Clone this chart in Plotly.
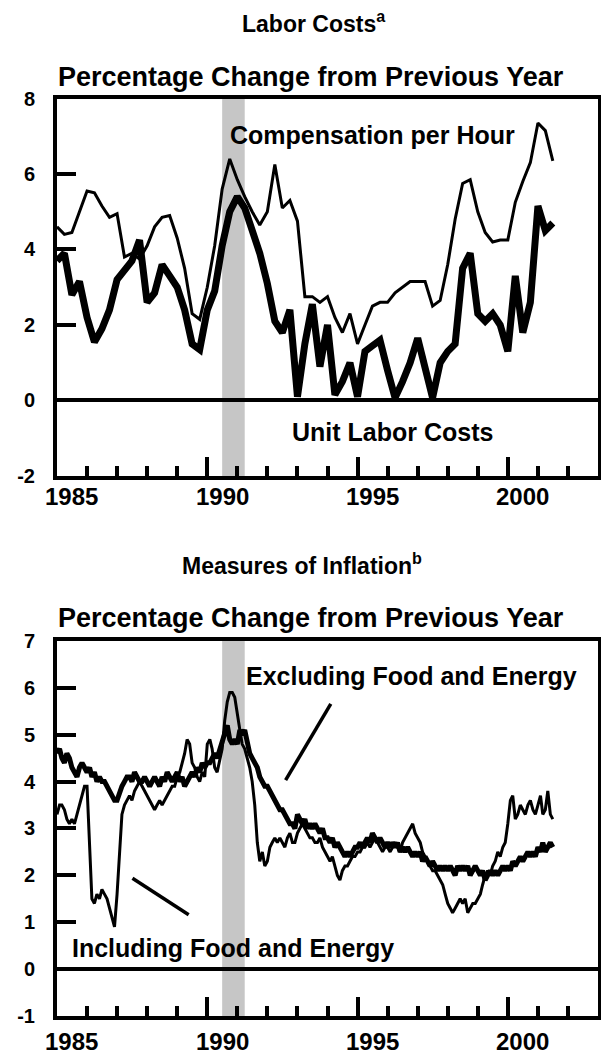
import pandas as pd
import plotly.graph_objects as go

# ---------------- Data ----------------
# Labor costs, quarterly, 1985Q1 - 2001Q3 (percent change from previous year)
labor_start = "1985-01-01"
comp_per_hour = [
    4.60, 4.40, 4.45, 5.00, 5.55, 5.50, 5.15, 4.85, 4.95, 3.80,
    3.90, 3.75, 4.10, 4.60, 4.85, 4.90, 4.30, 3.50, 2.30, 2.15,
    3.00, 4.10, 5.60, 6.40, 5.85, 5.40, 5.00, 4.65, 5.00, 6.25,
    5.10, 5.30, 4.75, 2.75, 2.75, 2.60, 2.75, 2.20, 1.80, 2.30,
    1.50, 2.00, 2.50, 2.60, 2.60, 2.85, 3.00, 3.15, 3.15, 3.15,
    2.50, 2.65, 3.60, 4.80, 5.75, 5.85, 5.00, 4.45, 4.20, 4.25,
    4.25, 5.25, 5.80, 6.30, 7.35, 7.15, 6.35,
]
unit_labor_costs = [
    3.70, 3.90, 2.80, 3.15, 2.20, 1.55, 1.90, 2.40, 3.20, 3.45,
    3.70, 4.25, 2.60, 2.85, 3.60, 3.30, 3.00, 2.40, 1.50, 1.35,
    2.40, 2.90, 4.10, 5.00, 5.40, 5.10, 4.50, 3.90, 3.10, 2.10,
    1.80, 2.40, 0.10, 1.50, 2.55, 0.90, 2.00, 0.15, 0.50, 1.00,
    0.10, 1.30, 1.45, 1.60, 0.80, 0.07, 0.50, 1.00, 1.65, 0.90,
    0.07, 1.00, 1.30, 1.50, 3.50, 3.90, 2.30, 2.10, 2.30, 2.00,
    1.30, 3.30, 1.80, 2.60, 5.15, 4.50, 4.70,
]

# Measures of inflation, monthly, Jan 1985 - Jul 2001
infl_start = "1985-01-01"
excl_food_energy = [
    4.6, 4.7, 4.5, 4.4, 4.6, 4.5, 4.3, 4.2, 4.1, 4.3, 4.4, 4.3,   # 1985
    4.2, 4.3, 4.1, 4.2, 4.0, 4.1, 4.0, 4.0, 3.9, 3.8, 3.7, 3.6,   # 1986
    3.6, 3.8, 3.9, 4.0, 4.1, 4.1, 4.0, 4.2, 4.1, 4.0, 4.0, 4.1,   # 1987
    4.0, 3.9, 4.0, 4.1, 4.0, 3.9, 4.1, 4.0, 4.2, 4.1, 4.0, 4.1,   # 1988
    4.2, 4.0, 4.1, 3.9, 4.0, 4.1, 4.2, 4.1, 4.3, 4.2, 4.4, 4.3,   # 1989
    4.4, 4.4, 4.5, 4.6, 4.5, 4.7, 4.9, 5.1, 5.2, 4.9, 4.8, 4.9,   # 1990
    4.8, 5.1, 5.0, 5.1, 4.8, 4.6, 4.5, 4.4, 4.3, 4.1, 4.0, 3.9,   # 1991
    3.9, 3.8, 3.7, 3.6, 3.5, 3.4, 3.4, 3.3, 3.2, 3.1, 3.1, 3.0,   # 1992
    3.3, 3.2, 3.1, 3.2, 3.0, 3.1, 3.0, 3.1, 3.0, 2.9, 3.0, 2.8,   # 1993
    2.8, 2.7, 2.8, 2.6, 2.7, 2.6, 2.5, 2.4, 2.5, 2.4, 2.5, 2.6,   # 1994
    2.6, 2.7, 2.6, 2.7, 2.8, 2.7, 2.9, 2.8, 2.7, 2.8, 2.7, 2.6,   # 1995
    2.7, 2.6, 2.7, 2.6, 2.7, 2.5, 2.6, 2.5, 2.6, 2.5, 2.4, 2.5,   # 1996
    2.4, 2.5, 2.3, 2.4, 2.3, 2.2, 2.3, 2.2, 2.1, 2.2, 2.1, 2.2,   # 1997
    2.1, 2.2, 2.1, 2.0, 2.2, 2.1, 2.2, 2.1, 2.2, 2.0, 2.1, 2.2,   # 1998
    2.1, 2.0, 2.1, 1.9, 2.0, 2.1, 2.0, 2.1, 2.0, 2.1, 2.2, 2.1,   # 1999
    2.2, 2.1, 2.3, 2.2, 2.3, 2.4, 2.3, 2.4, 2.5, 2.4, 2.5, 2.4,   # 2000
    2.6, 2.5, 2.7, 2.5, 2.6, 2.7, 2.6,                            # 2001
]
incl_food_energy = [
    3.3, 3.5, 3.5, 3.4, 3.2, 3.1, 3.2, 3.1, 3.3, 3.5, 3.7, 3.9,   # 1985
    3.9, 2.6, 1.5, 1.4, 1.6, 1.5, 1.7, 1.6, 1.5, 1.3, 1.1, 0.9,   # 1986
    1.6, 2.5, 3.3, 3.5, 3.6, 3.7, 3.6, 3.8, 3.9, 4.0, 3.9, 3.8,   # 1987
    3.7, 3.6, 3.5, 3.4, 3.5, 3.6, 3.5, 3.6, 3.7, 3.8, 3.9, 3.9,   # 1988
    4.1, 4.2, 4.4, 4.6, 4.9, 4.8, 4.4, 4.3, 4.1, 4.0, 4.2, 4.1,   # 1989
    4.8, 4.9, 4.7, 4.3, 4.2, 4.5, 4.7, 5.3, 5.7, 5.9, 5.9, 5.8,   # 1990
    5.4, 5.1, 4.8, 4.7, 4.5, 4.3, 4.0, 3.5, 2.7, 2.3, 2.5, 2.2,   # 1991
    2.3, 2.6, 2.7, 2.8, 2.7, 2.8, 2.7, 2.6, 2.8, 2.9, 2.7, 2.7,   # 1992
    2.9, 3.0, 3.1, 3.0, 2.9, 2.8, 2.8, 2.7, 2.7, 2.8, 2.6, 2.5,   # 1993
    2.4, 2.3, 2.4, 2.2, 2.0, 1.9, 2.1, 2.2, 2.2, 2.3, 2.4, 2.4,   # 1994
    2.5, 2.5, 2.6, 2.6, 2.7, 2.6, 2.7, 2.8, 2.7, 2.6, 2.5, 2.6,   # 1995
    2.6, 2.5, 2.6, 2.7, 2.6, 2.5, 2.7, 2.8, 2.9, 3.0, 3.1, 2.9,   # 1996
    2.8, 2.7, 2.5, 2.4, 2.3, 2.2, 2.1, 2.1, 2.0, 1.9, 1.8, 1.6,   # 1997
    1.4, 1.3, 1.2, 1.3, 1.4, 1.5, 1.4, 1.5, 1.2, 1.3, 1.4, 1.4,   # 1998
    1.5, 1.6, 1.8, 2.0, 2.1, 2.0, 2.2, 2.3, 2.5, 2.4, 2.6, 2.7,   # 1999
    3.1, 3.6, 3.7, 3.2, 3.3, 3.5, 3.4, 3.3, 3.5, 3.6, 3.4, 3.3,   # 2000
    3.5, 3.7, 3.3, 3.4, 3.8, 3.3, 3.2,                            # 2001
]

recession = ("1990-07-01", "1991-04-01")
year_labels = ["1985", "1990", "1995", "2000"]
major_ticks = ["1990-01-01", "1995-01-01", "2000-01-01"]
x_range = ["1985-01-01", "2003-01-01"]

top_yticks = [-2, 0, 2, 4, 6, 8]
bot_yticks = [-1, 0, 1, 2, 3, 4, 5, 6, 7]

q_dates = pd.date_range(labor_start, periods=len(comp_per_hour), freq="QS")
m_dates = pd.date_range(infl_start, periods=len(excl_food_energy), freq="MS")

FONT = "Liberation Sans, Arial, sans-serif"
W, H = 601, 1057

fig = go.Figure()

fig.add_trace(go.Scatter(x=q_dates, y=comp_per_hour, mode="lines",
                         line=dict(color="black", width=3), xaxis="x", yaxis="y",
                         showlegend=False))
fig.add_trace(go.Scatter(x=q_dates, y=unit_labor_costs, mode="lines",
                         line=dict(color="black", width=7), xaxis="x", yaxis="y",
                         showlegend=False))
fig.add_trace(go.Scatter(x=m_dates, y=incl_food_energy, mode="lines",
                         line=dict(color="black", width=3), xaxis="x2", yaxis="y2",
                         showlegend=False))
fig.add_trace(go.Scatter(x=m_dates, y=excl_food_energy, mode="lines",
                         line=dict(color="black", width=5), xaxis="x2", yaxis="y2",
                         showlegend=False))

xcommon = dict(
    type="date", range=x_range, showgrid=False, zeroline=False,
    showline=True, mirror=True, linewidth=4, linecolor="black",
    tickmode="array", tickvals=major_ticks, ticks="inside", ticklen=19,
    tickwidth=4, tickcolor="black", showticklabels=False,
    minor=dict(tickmode="linear", tick0="1985-01-01", dtick="M12",
               ticks="inside", ticklen=10, tickwidth=4, tickcolor="black"),
)
ycommon = dict(
    showgrid=False, zeroline=True, zerolinewidth=4, zerolinecolor="black",
    showline=True, mirror=True, linewidth=4, linecolor="black",
    tickmode="array", ticks="inside", ticklen=19, tickwidth=4, tickcolor="black",
    tickfont=dict(family=FONT, size=20, color="black", weight="bold"),
    ticklabelstandoff=14,
)

fig.update_layout(
    width=W, height=H,
    margin=dict(l=57, r=3, t=0, b=0, autoexpand=False),
    paper_bgcolor="white", plot_bgcolor="white",
    xaxis=dict(domain=[0, 1], anchor="y", **xcommon),
    yaxis=dict(domain=[0.5497, 0.9068], anchor="x", range=[-2, 8],
               tickvals=top_yticks, ticktext=[str(v) for v in top_yticks], **ycommon),
    xaxis2=dict(domain=[0, 1], anchor="y2", **xcommon),
    yaxis2=dict(domain=[0.0388, 0.3936], anchor="x2", range=[-1, 7],
                tickvals=bot_yticks, ticktext=[str(v) for v in bot_yticks], **ycommon),
)

shapes = []
for xr, yr in (("x", "y"), ("x2", "y2")):
    shapes.append(dict(type="rect", xref=xr, yref=f"{yr} domain",
                       x0=recession[0], x1=recession[1], y0=0, y1=1,
                       fillcolor="#c6c6c6", line=dict(width=0), layer="below"))
# pointer lines
shapes.append(dict(type="line", xref="x2", yref="y2", x0="1994-02-10", y0=5.66,
                   x1="1992-08-10", y1=4.03, line=dict(color="black", width=3.5)))
shapes.append(dict(type="line", xref="x2", yref="y2", x0="1987-07-07", y0=1.94,
                   x1="1989-05-20", y1=1.16, line=dict(color="black", width=3.5)))
fig.update_layout(shapes=shapes)


def bold(size):
    return dict(family=FONT, size=size, color="black", weight="bold")


def py(pix):
    return 1 - pix / H


ann = []
# titles
ann.append(dict(text="Labor Costs<sup>a</sup>", xref="paper", yref="paper",
                x=0.475, y=py(22), showarrow=False, font=bold(23),
                xanchor="center", yanchor="middle"))
ann.append(dict(text="Percentage Change from Previous Year", xref="paper", yref="paper",
                x=-0.002, y=py(77), showarrow=False, font=bold(27),
                xanchor="left", yanchor="middle"))
ann.append(dict(text="Measures of Inflation<sup>b</sup>", xref="paper", yref="paper",
                x=0.452, y=py(564), showarrow=False, font=bold(23),
                xanchor="center", yanchor="middle"))
ann.append(dict(text="Percentage Change from Previous Year", xref="paper", yref="paper",
                x=-0.002, y=py(618), showarrow=False, font=bold(27),
                xanchor="left", yanchor="middle"))
# series labels
ann.append(dict(text="Compensation per Hour", xref="x", yref="y", x="1995-07-01", y=7.03,
                showarrow=False, font=bold(25), xanchor="center", yanchor="middle"))
ann.append(dict(text="Unit Labor Costs", xref="x", yref="y", x="1996-03-01", y=-0.83,
                showarrow=False, font=bold(25), xanchor="center", yanchor="middle"))
ann.append(dict(text="Excluding Food and Energy", xref="x2", yref="y2", x="1996-10-20", y=6.26,
                showarrow=False, font=bold(25), xanchor="center", yanchor="middle"))
ann.append(dict(text="Including Food and Energy", xref="x2", yref="y2", x="1990-11-10", y=0.45,
                showarrow=False, font=bold(25), xanchor="center", yanchor="middle"))
# x tick labels (centered mid-year)
for lab in year_labels:
    ann.append(dict(text=lab, xref="x", yref="paper", x=f"{lab}-07-01", y=py(496),
                    showarrow=False, font=bold(24), xanchor="center", yanchor="middle",
                    borderpad=0))
    ann.append(dict(text=lab, xref="x2", yref="paper", x=f"{lab}-07-01", y=py(1041),
                    showarrow=False, font=bold(24), xanchor="center", yanchor="middle",
                    borderpad=0))
fig.update_layout(annotations=ann)

fig.write_html(
    "out.html",
    config={"displayModeBar": False},
    post_script="document.body.style.margin='0px';"
                "document.documentElement.style.overflow='hidden';"
                "document.body.style.overflow='hidden';",
)
